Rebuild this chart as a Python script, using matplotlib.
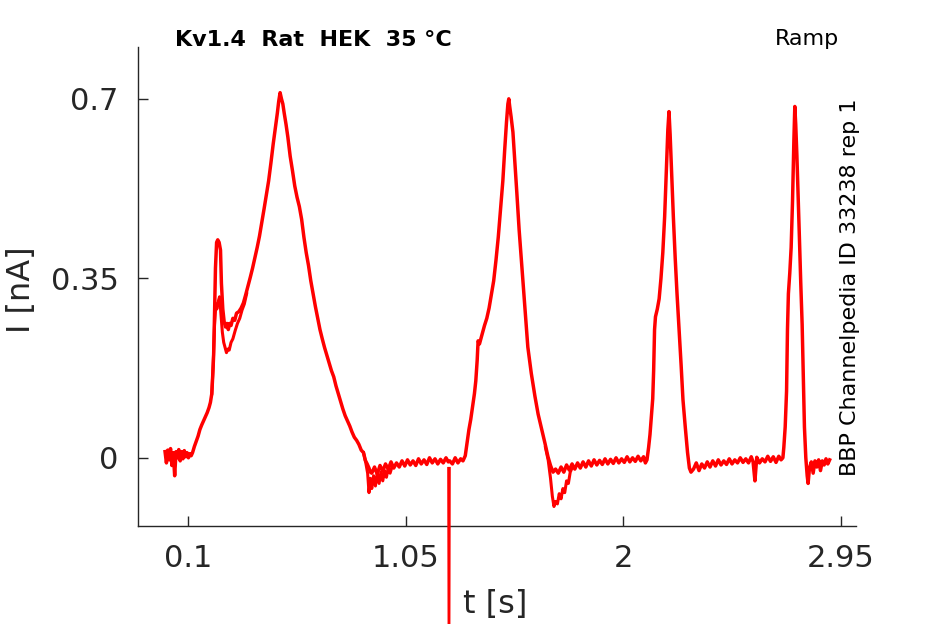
import matplotlib
matplotlib.use("Agg")
import matplotlib.pyplot as plt

# ---- data (time in s, current in nA) ----
trace_a_t = [
    0.000, 0.006, 0.012, 0.018, 0.024, 0.030, 0.036, 0.042, 0.048, 0.054,
    0.060, 0.066, 0.072, 0.078, 0.084, 0.090, 0.096, 0.102, 0.108, 0.114,
    0.120, 0.128, 0.136, 0.144, 0.152, 0.160, 0.168, 0.176, 0.184, 0.192,
    0.198, 0.204, 0.208, 0.212, 0.216, 0.220, 0.225, 0.230, 0.236, 0.242,
    0.246, 0.252, 0.258, 0.264, 0.270, 0.276, 0.282, 0.288, 0.296, 0.304,
    0.312, 0.322, 0.332, 0.342, 0.352, 0.362, 0.372, 0.382, 0.392, 0.402,
    0.412, 0.422, 0.432, 0.442, 0.452, 0.462, 0.472, 0.482, 0.490, 0.496,
    0.502, 0.508, 0.514, 0.520, 0.528, 0.536, 0.546, 0.556, 0.566, 0.576,
    0.586, 0.596, 0.606, 0.616, 0.626, 0.636, 0.646, 0.656, 0.666, 0.676,
    0.686, 0.696, 0.706, 0.716, 0.726, 0.736, 0.746, 0.756, 0.766, 0.776,
    0.786, 0.796, 0.806, 0.816, 0.826, 0.836, 0.846, 0.856, 0.866, 0.874,
    0.882, 0.890, 0.896,
    0.902, 0.914, 0.926, 0.938, 0.950, 0.962, 0.974, 0.986, 0.998, 1.010,
    1.022, 1.034, 1.046, 1.058, 1.070, 1.082, 1.094, 1.106, 1.118, 1.130,
    1.142, 1.154, 1.166, 1.178, 1.190, 1.202, 1.214, 1.226, 1.236,
    1.242, 1.254, 1.266, 1.278, 1.290, 1.300,
    1.310, 1.318, 1.326, 1.334, 1.342, 1.350, 1.356, 1.362, 1.366, 1.372,
    1.378, 1.386, 1.394, 1.404, 1.414, 1.424, 1.434, 1.444, 1.454, 1.464,
    1.474, 1.482, 1.490, 1.496, 1.500, 1.504, 1.510, 1.518, 1.526, 1.535,
    1.545, 1.557, 1.570, 1.583, 1.598, 1.614, 1.628, 1.644, 1.658, 1.671,
    1.682, 1.693, 1.704,
    1.716, 1.728, 1.740, 1.752, 1.764, 1.776, 1.788, 1.800, 1.812, 1.824,
    1.836, 1.848, 1.860, 1.872, 1.884, 1.896, 1.908, 1.920, 1.932, 1.944,
    1.956, 1.968, 1.980, 1.992, 2.004, 2.016, 2.028, 2.040, 2.052, 2.064,
    2.076, 2.088, 2.096, 2.103,
    2.110, 2.116, 2.122, 2.128, 2.132, 2.136, 2.140, 2.148, 2.156, 2.164,
    2.172, 2.180, 2.188, 2.194, 2.199, 2.204, 2.210, 2.218, 2.226, 2.234,
    2.243, 2.252, 2.260, 2.270, 2.280, 2.288, 2.295,
    2.306, 2.318, 2.330, 2.342, 2.354, 2.366, 2.378, 2.390, 2.402, 2.414,
    2.426, 2.438, 2.450, 2.462, 2.474, 2.486, 2.498, 2.510, 2.522, 2.534,
    2.546, 2.558, 2.566, 2.574, 2.582, 2.594, 2.606, 2.618, 2.630, 2.642,
    2.654, 2.666, 2.678, 2.688,
    2.696, 2.700, 2.706, 2.712, 2.716, 2.720, 2.726, 2.732, 2.738, 2.744,
    2.748, 2.752, 2.757, 2.762, 2.768, 2.774, 2.780, 2.785, 2.790, 2.796,
    2.802, 2.806,
    2.812, 2.820, 2.828, 2.836, 2.844, 2.852, 2.860, 2.868, 2.876, 2.884,
    2.892, 2.900,
]
trace_a_i = [
    0.012, -0.010, 0.015, -0.004, 0.018, -0.015, 0.010, -0.035, 0.012, 0.000,
    0.016, -0.006, 0.012, -0.002, 0.014, 0.002, 0.010, 0.000, 0.008, 0.004,
    0.010, 0.022, 0.032, 0.042, 0.055, 0.064, 0.072, 0.080, 0.088, 0.098,
    0.108, 0.125, 0.160, 0.200, 0.280, 0.370, 0.420, 0.425, 0.420, 0.405,
    0.340, 0.290, 0.265, 0.255, 0.262, 0.250, 0.262, 0.258, 0.272, 0.268,
    0.282, 0.285, 0.292, 0.302, 0.318, 0.335, 0.352, 0.370, 0.390, 0.410,
    0.432, 0.458, 0.485, 0.512, 0.540, 0.575, 0.612, 0.645, 0.672, 0.695,
    0.712, 0.700, 0.690, 0.672, 0.650, 0.625, 0.588, 0.560, 0.530, 0.508,
    0.490, 0.465, 0.430, 0.400, 0.375, 0.345, 0.320, 0.295, 0.272, 0.250,
    0.232, 0.215, 0.200, 0.185, 0.170, 0.158, 0.140, 0.125, 0.110, 0.095,
    0.082, 0.072, 0.062, 0.050, 0.040, 0.034, 0.026, 0.015, 0.010, -0.005,
    -0.012, -0.020, -0.028,
    -0.030, -0.018, -0.032, -0.015, -0.026, -0.012, -0.022, -0.008, -0.020, -0.010,
    -0.018, -0.006, -0.016, -0.004, -0.014, -0.006, -0.015, -0.002, -0.012, -0.004,
    -0.013, 0.000, -0.010, -0.002, -0.012, -0.003, -0.010, 0.000, -0.008,
    -0.006, -0.012, 0.000, -0.010, -0.002, -0.006,
    0.004, 0.030, 0.055, 0.075, 0.100, 0.125, 0.150, 0.190, 0.228, 0.222,
    0.232, 0.245, 0.258, 0.272, 0.292, 0.318, 0.345, 0.385, 0.430, 0.485,
    0.540, 0.600, 0.655, 0.690, 0.700, 0.685, 0.665, 0.635, 0.580, 0.517,
    0.445, 0.372, 0.295, 0.216, 0.165, 0.120, 0.085, 0.055, 0.028, 0.002,
    -0.015, -0.028, -0.022,
    -0.030, -0.018, -0.028, -0.014, -0.024, -0.012, -0.022, -0.010, -0.020, -0.008,
    -0.018, -0.006, -0.016, -0.004, -0.014, -0.005, -0.013, -0.002, -0.012, -0.003,
    -0.011, 0.000, -0.010, -0.002, -0.009, 0.002, -0.008, 0.000, -0.007, 0.003,
    -0.006, 0.002, -0.010, -0.004,
    0.020, 0.045, 0.080, 0.115, 0.170, 0.250, 0.275, 0.290, 0.310, 0.350,
    0.400, 0.470, 0.570, 0.640, 0.675, 0.630, 0.560, 0.470, 0.390, 0.320,
    0.250, 0.180, 0.113, 0.060, 0.010, -0.020, -0.028,
    -0.022, -0.010, -0.025, -0.012, -0.020, -0.008, -0.018, -0.006, -0.016, -0.004,
    -0.014, -0.006, -0.013, -0.002, -0.012, -0.004, -0.010, 0.000, -0.009, -0.002,
    -0.010, 0.002, -0.008, -0.045, 0.001, -0.010, -0.002, -0.008, 0.003, -0.007,
    0.002, -0.009, 0.003, -0.004,
    0.000, 0.020, 0.060, 0.130, 0.250, 0.320, 0.360, 0.410, 0.500, 0.620,
    0.685, 0.650, 0.590, 0.520, 0.430, 0.340, 0.260, 0.160, 0.060, 0.000,
    -0.035, -0.050,
    -0.020, -0.008, -0.030, -0.006, -0.018, -0.004, -0.025, -0.006, -0.014, -0.002,
    -0.012, -0.004,
]

# artefact spike (runs off the bottom of the axes)
spike_t = [1.236, 1.239, 1.242]
spike_i = [-0.020, -0.600, -0.020]

# second repetition where it departs from the first
trace_b1_t = [0.204, 0.210, 0.216, 0.222, 0.226, 0.232, 0.238, 0.244, 0.250, 0.256,
              0.262, 0.268, 0.274, 0.280, 0.288, 0.296, 0.306, 0.316, 0.326, 0.336,
              0.346, 0.356]
trace_b1_i = [0.125, 0.180, 0.260, 0.300, 0.290, 0.305, 0.314, 0.280, 0.245, 0.225,
              0.215, 0.205, 0.212, 0.210, 0.225, 0.232, 0.248, 0.262, 0.272, 0.288,
              0.300, 0.320]
trace_b2_t = [0.866, 0.876, 0.884, 0.890, 0.896, 0.902, 0.910, 0.918, 0.926, 0.934,
              0.942, 0.950, 0.958, 0.966, 0.974, 0.982, 0.990]
trace_b2_i = [0.010, -0.010, -0.030, -0.068, -0.040, -0.060, -0.035, -0.055, -0.030, -0.050,
              -0.028, -0.045, -0.025, -0.038, -0.020, -0.030, -0.018]
trace_b3_t = [1.660, 1.672, 1.682, 1.690, 1.697, 1.704, 1.712, 1.720, 1.728, 1.736,
              1.744, 1.752, 1.760, 1.768, 1.776]
trace_b3_i = [0.020, -0.005, -0.040, -0.075, -0.095, -0.085, -0.090, -0.070, -0.080, -0.060,
              -0.068, -0.045, -0.050, -0.028, -0.020]

x_ticks = [0.1, 1.05, 2.0, 2.95]
x_tick_labels = ["0.1", "1.05", "2", "2.95"]
y_ticks = [0.0, 0.35, 0.7]
y_tick_labels = ["0", "0.35", "0.7"]

title_text = "Kv1.4  Rat  HEK  35 °C"
protocol_text = "Ramp"
source_text = "BBP Channelpedia ID 33238 rep 1"

# ---- figure ----
plt.rcParams['font.family'] = ['DejaVu Sans']
fig = plt.figure(figsize=(9.45, 6.24), dpi=100)
ax = fig.add_axes([138 / 945, 1 - 526 / 624, (856 - 138) / 945, (526 - 47) / 624])

red = "#ff0000"
ax.plot(trace_a_t, trace_a_i, color=red, lw=2.5, zorder=3,
        solid_joinstyle="round")
ax.plot(spike_t, spike_i, color=red, lw=1.6, clip_on=False, zorder=3)
for tt, ii in [(trace_b1_t, trace_b1_i), (trace_b2_t, trace_b2_i), (trace_b3_t, trace_b3_i)]:
    ax.plot(tt, ii, color=red, lw=2.2, zorder=3, solid_joinstyle="round")

ax.set_xlim(-0.118, 3.015)
ax.set_ylim(-0.133, 0.801)

for s in ["top", "right"]:
    ax.spines[s].set_visible(False)
for s in ["left", "bottom"]:
    ax.spines[s].set_color("#262626")
    ax.spines[s].set_linewidth(1.0)

ax.set_xticks(x_ticks)
ax.set_xticklabels(x_tick_labels)
ax.set_yticks(y_ticks)
ax.set_yticklabels(y_tick_labels)
ax.tick_params(direction="in", length=7, width=1, colors="#262626",
               labelsize=22, labelcolor="#262626")
ax.tick_params(axis="x", pad=13)
ax.tick_params(axis="y", pad=14)

fig.text(22 / 945, 1 - 290 / 624, "I [nA]", rotation=90, ha="center", va="center",
         fontsize=23, color="#262626")
fig.text(495 / 945, 1 - 604 / 624, "t [s]", ha="center", va="center",
         fontsize=23, color="#262626")

fig.text(175 / 945, 1 - 40 / 624, title_text, ha="left", va="center",
         fontsize=16, fontweight="bold", color="black")
fig.text(807 / 945, 1 - 39 / 624, protocol_text, ha="center", va="center",
         fontsize=16, color="black")
fig.text(850 / 945, 1 - 287 / 624, source_text, rotation=90, ha="center", va="center",
         fontsize=16, color="black")

fig.savefig("out.png", dpi=100)
